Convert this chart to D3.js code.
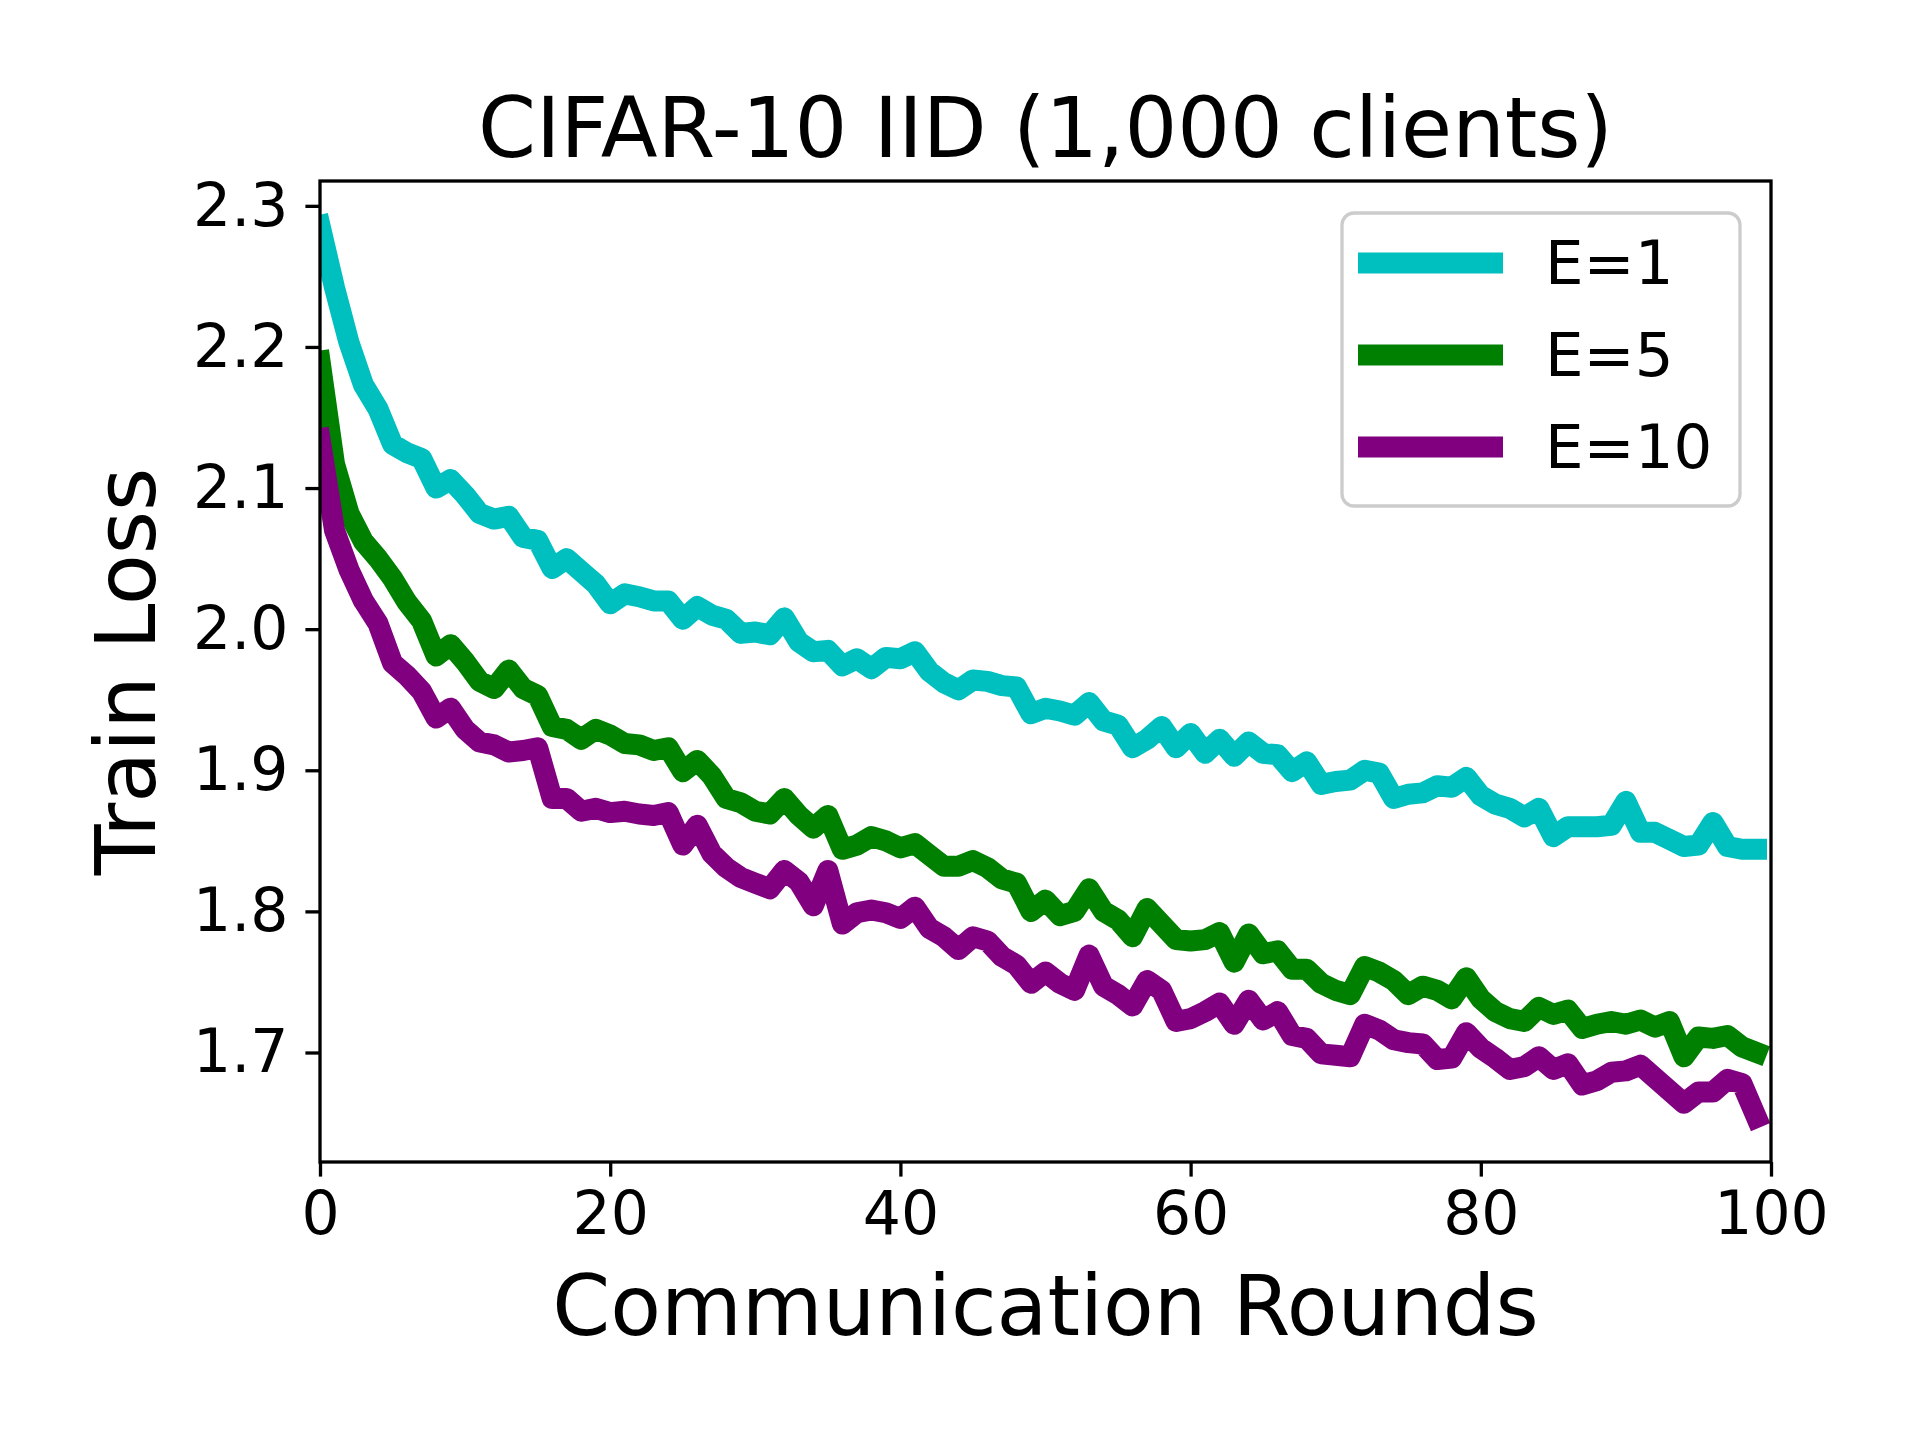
<!DOCTYPE html>
<html lang="en">
<head>
  <meta charset="UTF-8">
  <title>CIFAR-10 IID (1,000 clients)</title>
  <script src="https://d3js.org/d3.v7.min.js"></script>
  <style>
    body { margin: 0; background: #fff; }
    text { font-family: "DejaVu Sans", sans-serif; fill: #000; }
  </style>
</head>
<body>
  <script>
    const width = 1920, height = 1440;
    const margin = { left: 320, right: 149, top: 181, bottom: 278 };

    // train loss per communication round
    const lossE1 = [
      2.286, 2.242, 2.203, 2.173, 2.156, 2.131, 2.125, 2.121, 2.100, 2.106,
      2.095, 2.082, 2.078, 2.080, 2.065, 2.063, 2.043, 2.050, 2.041, 2.032,
      2.018, 2.025, 2.023, 2.020, 2.020, 2.007, 2.016, 2.010, 2.007, 1.997,
      1.998, 1.996, 2.008, 1.991, 1.984, 1.985, 1.974, 1.979, 1.972, 1.980,
      1.979, 1.984, 1.970, 1.962, 1.957, 1.964, 1.963, 1.960, 1.959, 1.940,
      1.944, 1.942, 1.939, 1.948, 1.935, 1.932, 1.916, 1.922, 1.931, 1.916,
      1.926, 1.912, 1.922, 1.910, 1.920, 1.912, 1.911, 1.899, 1.906, 1.890,
      1.892, 1.893, 1.900, 1.898, 1.880, 1.883, 1.884, 1.889, 1.888, 1.895,
      1.882, 1.876, 1.873, 1.867, 1.873, 1.853, 1.860, 1.860, 1.860, 1.861,
      1.878, 1.856, 1.856, 1.851, 1.846, 1.847, 1.863, 1.846, 1.844, 1.844
    ];
    const lossE5 = [
      2.190, 2.117, 2.082, 2.062, 2.050, 2.036, 2.019, 2.006, 1.981, 1.989,
      1.977, 1.963, 1.958, 1.971, 1.958, 1.953, 1.931, 1.929, 1.922, 1.929,
      1.925, 1.919, 1.918, 1.914, 1.916, 1.899, 1.907, 1.896, 1.880, 1.877,
      1.871, 1.869, 1.880, 1.868, 1.859, 1.868, 1.844, 1.847, 1.853, 1.850,
      1.845, 1.848, 1.840, 1.832, 1.832, 1.836, 1.831, 1.823, 1.820, 1.800,
      1.808, 1.797, 1.800, 1.816, 1.800, 1.794, 1.782, 1.802, 1.791, 1.780,
      1.779, 1.780, 1.785, 1.764, 1.784, 1.770, 1.772, 1.759, 1.759, 1.749,
      1.744, 1.741, 1.761, 1.757, 1.751, 1.741, 1.747, 1.744, 1.738, 1.753,
      1.738, 1.729, 1.724, 1.722, 1.732, 1.727, 1.730, 1.717, 1.720, 1.722,
      1.720, 1.723, 1.718, 1.722, 1.697, 1.711, 1.710, 1.712, 1.704, 1.700
    ];
    const lossE10 = [
      2.135, 2.070, 2.042, 2.020, 2.004, 1.976, 1.967, 1.956, 1.937, 1.944,
      1.929, 1.920, 1.918, 1.913, 1.914, 1.916, 1.880, 1.880, 1.871, 1.873,
      1.870, 1.871, 1.869, 1.868, 1.870, 1.847, 1.861, 1.841, 1.831, 1.824,
      1.820, 1.816, 1.829, 1.821, 1.804, 1.829, 1.791, 1.799, 1.801, 1.799,
      1.795, 1.803, 1.788, 1.782, 1.773, 1.782, 1.779, 1.768, 1.762, 1.749,
      1.757, 1.749, 1.744, 1.769, 1.747, 1.741, 1.733, 1.751, 1.744, 1.722,
      1.724, 1.729, 1.735, 1.720, 1.737, 1.723, 1.729, 1.712, 1.710, 1.699,
      1.698, 1.697, 1.720, 1.716, 1.709, 1.707, 1.706, 1.695, 1.696, 1.714,
      1.703, 1.696, 1.688, 1.690, 1.697, 1.688, 1.692, 1.677, 1.680, 1.686,
      1.687, 1.691, 1.682, 1.673, 1.664, 1.672, 1.672, 1.681, 1.678, 1.654
    ];

    const seriesNames = ['E=1', 'E=5', 'E=10'];
    const seriesColors = ['#00bfbf', '#008000', '#800080'];
    const seriesValues = [lossE1, lossE5, lossE10];
    const xTicks = [0, 20, 40, 60, 80, 100];
    const yTicks = [1.7, 1.8, 1.9, 2.0, 2.1, 2.2, 2.3];

    const svg = d3.select('body')
      .append('svg')
      .attr('width', width)
      .attr('height', height)
      .style('background', '#fff');

    const innerW = width - margin.left - margin.right;
    const innerH = height - margin.top - margin.bottom;

    // matplotlib-like autoscale: 5% padding around the data
    const all = seriesValues.flat();
    const yMin = d3.min(all), yMax = d3.max(all);
    const pad = (yMax - yMin) * 0.05;

    const x = d3.scaleLinear().domain([0, 100]).range([margin.left, margin.left + innerW]);
    const y = d3.scaleLinear().domain([yMin - pad, yMax + pad]).range([margin.top + innerH, margin.top]);

    svg.append('clipPath').attr('id', 'plot-clip')
      .append('rect')
      .attr('x', margin.left).attr('y', margin.top)
      .attr('width', innerW).attr('height', innerH);

    const line = d3.line()
      .x((d, i) => x(i))
      .y(d => y(d));

    svg.append('g')
      .attr('clip-path', 'url(#plot-clip)')
      .selectAll('path')
      .data(seriesValues)
      .join('path')
      .attr('d', line)
      .attr('fill', 'none')
      .attr('stroke', (d, i) => seriesColors[i])
      .attr('stroke-width', 21)
      .attr('stroke-linejoin', 'round')
      .attr('stroke-linecap', 'square');

    // axes
    const xAxis = d3.axisBottom(x)
      .tickValues(xTicks)
      .tickFormat(d3.format('d'))
      .tickSizeInner(14.6)
      .tickSizeOuter(0)
      .tickPadding(15);

    const yAxis = d3.axisLeft(y)
      .tickValues(yTicks)
      .tickFormat(d3.format('.1f'))
      .tickSizeInner(14.6)
      .tickSizeOuter(0)
      .tickPadding(17);

    const gx = svg.append('g')
      .attr('transform', `translate(0, ${margin.top + innerH})`)
      .call(xAxis);
    const gy = svg.append('g')
      .attr('transform', `translate(${margin.left}, 0)`)
      .call(yAxis);

    [gx, gy].forEach(g => {
      g.select('.domain').remove();
      g.selectAll('line').attr('stroke', '#000').attr('stroke-width', 3.3);
      g.selectAll('text')
        .attr('font-size', 60)
        .attr('font-family', '"DejaVu Sans", sans-serif')
        .attr('fill', '#000');
    });

    // frame
    svg.append('rect')
      .attr('x', margin.left).attr('y', margin.top)
      .attr('width', innerW).attr('height', innerH)
      .attr('fill', 'none')
      .attr('stroke', '#000')
      .attr('stroke-width', 3.3);

    // title and axis labels
    svg.append('text')
      .attr('x', margin.left + innerW / 2)
      .attr('y', 157)
      .attr('text-anchor', 'middle')
      .attr('font-size', 83)
      .text('CIFAR-10 IID (1,000 clients)');

    svg.append('text')
      .attr('x', margin.left + innerW / 2)
      .attr('y', 1335)
      .attr('text-anchor', 'middle')
      .attr('font-size', 83)
      .text('Communication Rounds');

    svg.append('text')
      .attr('transform', `translate(155, ${margin.top + innerH / 2}) rotate(-90)`)
      .attr('text-anchor', 'middle')
      .attr('font-size', 83)
      .text('Train Loss');

    // legend, anchored to the upper right corner of the axes
    const legendW = 398, legendH = 293;
    const legend = svg.append('g')
      .attr('transform', `translate(${margin.left + innerW - 31 - legendW}, 213)`);
    legend.append('rect')
      .attr('width', legendW).attr('height', legendH)
      .attr('rx', 12).attr('ry', 12)
      .attr('fill', '#fff').attr('fill-opacity', 0.8)
      .attr('stroke', '#cccccc').attr('stroke-width', 3.3);

    const items = legend.selectAll('g.item')
      .data(seriesNames)
      .join('g')
      .attr('class', 'item')
      .attr('transform', (d, i) => `translate(0, ${50 + i * 92})`);

    items.append('line')
      .attr('x1', 16).attr('x2', 161)
      .attr('stroke', (d, i) => seriesColors[i])
      .attr('stroke-width', 21);

    items.append('text')
      .attr('x', 203)
      .attr('y', 21)
      .attr('font-size', 61)
      .text(d => d);
  </script>
</body>
</html>
